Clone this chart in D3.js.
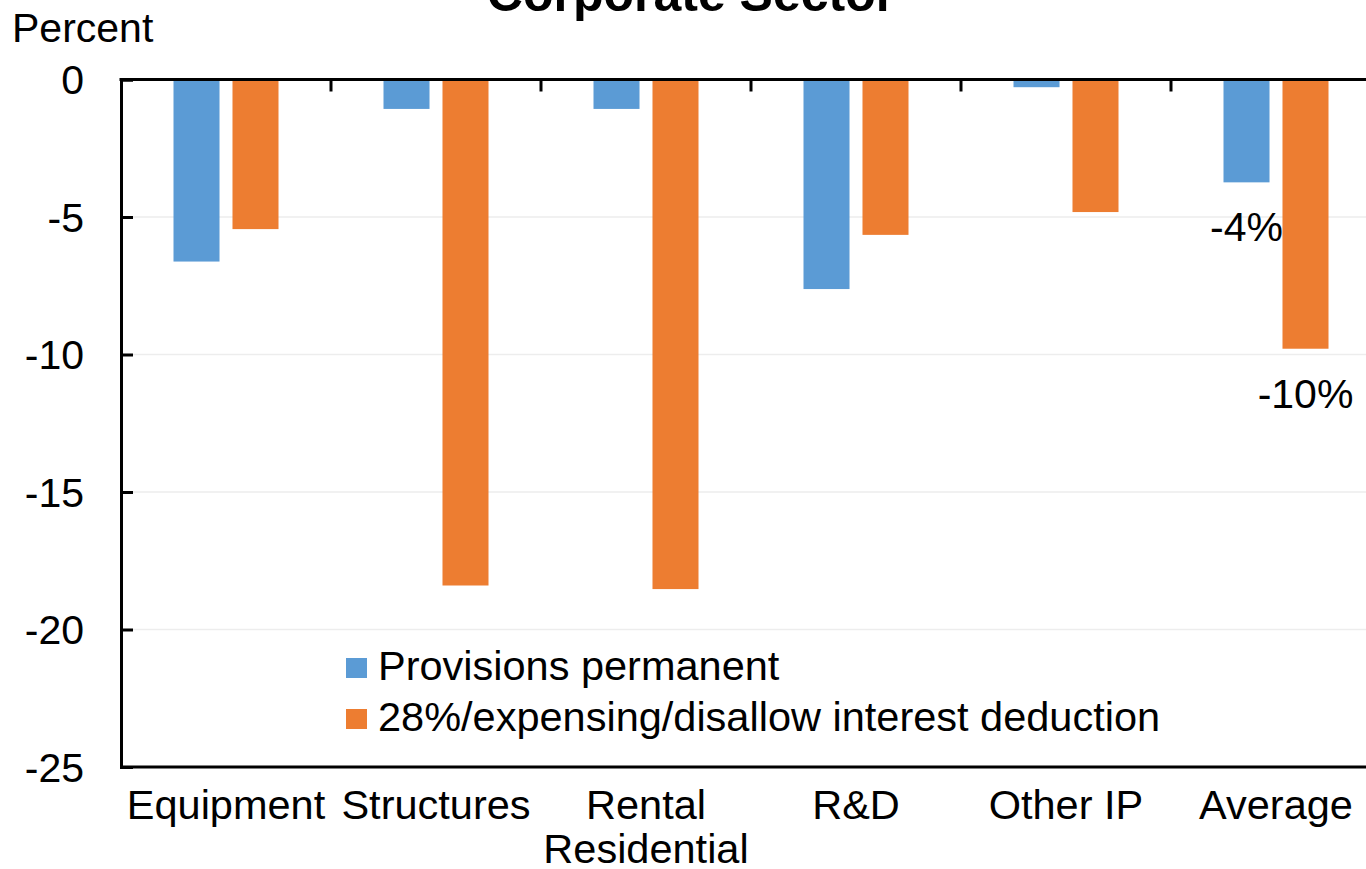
<!DOCTYPE html>
<html>
<head>
<meta charset="utf-8">
<script src="https://cdn.jsdelivr.net/npm/d3@7"></script>
<style>
  body { margin: 0; background: #fff; }
  svg { display: block; font-family: "Liberation Sans", Arial, sans-serif; }
</style>
</head>
<body>
<svg id="chart" width="1366" height="869"></svg>
<script>
const categories = [["Equipment"], ["Structures"], ["Rental", "Residential"], ["R&D"], ["Other IP"], ["Average"]];
const seriesNames = ["Provisions permanent", "28%/expensing/disallow interest deduction"];
const provisionsPermanent = [-6.62, -1.07, -1.07, -7.62, -0.28, -3.74];
const expensingDisallow = [-5.44, -18.4, -18.53, -5.65, -4.82, -9.79];
const yTicks = [0, -5, -10, -15, -20, -25];
const averageLabels = ["-4%", "-10%"];
const colors = ["#5B9BD5", "#ED7D31"];

const svg = d3.select("#chart");
const plotLeft = 121, plotRight = 1381, plotTop = 79.5, plotBottom = 767;

const catKeys = categories.map((c, i) => i);
const x0 = d3.scaleBand().domain(catKeys).range([plotLeft, plotRight]).paddingInner(0.5).paddingOuter(0.25);
const x1 = d3.scaleBand().domain([0, 1]).range([0, x0.bandwidth()]).paddingInner(0.22).paddingOuter(0);
const y = d3.scaleLinear().domain([-25, 0]).range([plotBottom, plotTop]);
const step = x0.step();

// gridlines
svg.append("g").selectAll("line").data(yTicks.filter(t => t !== 0 && t !== -25)).join("line")
  .attr("x1", plotLeft).attr("x2", 1366)
  .attr("y1", d => y(d)).attr("y2", d => y(d))
  .attr("stroke", "#ededed").attr("stroke-width", 1.5);

// bars
const series = [provisionsPermanent, expensingDisallow];
series.forEach((vals, si) => {
  svg.append("g").selectAll("rect").data(vals).join("rect")
    .attr("x", (d, i) => x0(i) + x1(si))
    .attr("width", x1.bandwidth())
    .attr("y", y(0))
    .attr("height", d => y(d) - y(0))
    .attr("fill", colors[si]);
});

// bottom line
svg.append("line").attr("x1", plotLeft).attr("x2", 1366).attr("y1", y(-25)).attr("y2", y(-25))
  .attr("stroke", "#000").attr("stroke-width", 3);

// left axis
const yAxis = d3.axisLeft(y).tickValues(yTicks).tickSize(-12).tickPadding(0).tickFormat(d => String(d));
const gy = svg.append("g").attr("transform", `translate(${plotLeft},0)`).call(yAxis);
gy.select(".domain").attr("stroke", "#000").attr("stroke-width", 3);
gy.selectAll(".tick line").attr("stroke", "#000").attr("stroke-width", 3);
gy.selectAll(".tick text").attr("x", -37).attr("dy", "0.35em")
  .style("font-size", "41px").style("font-family", "Liberation Sans, Arial, sans-serif").attr("fill", "#000");

// top axis line with boundary ticks
svg.append("line").attr("x1", plotLeft - 1.5).attr("x2", 1366).attr("y1", y(0)).attr("y2", y(0))
  .attr("stroke", "#000").attr("stroke-width", 3);
const boundaries = catKeys.slice(1).map(i => x0(i) - x0.paddingInner() * step / 2);
svg.append("g").selectAll("line").data(boundaries).join("line")
  .attr("x1", d => d).attr("x2", d => d)
  .attr("y1", y(0)).attr("y2", y(0) + 12)
  .attr("stroke", "#000").attr("stroke-width", 3);

// category labels
const lab = svg.append("g").selectAll("text").data(categories).join("text")
  .attr("x", (d, i) => x0(i) + x0.bandwidth() / 2)
  .attr("y", 819)
  .attr("text-anchor", "middle")
  .style("font-size", "41.5px").attr("fill", "#000");
lab.selectAll("tspan").data(d => d).join("tspan")
  .attr("x", function() { return d3.select(this.parentNode).attr("x"); })
  .attr("dy", (d, i) => i === 0 ? 0 : 44)
  .text(d => d);

// data labels for Average
const avgIdx = categories.length - 1;
svg.append("g").selectAll("text").data([provisionsPermanent[avgIdx], expensingDisallow[avgIdx]]).join("text")
  .attr("x", (d, i) => x0(avgIdx) + x1(i) + x1.bandwidth() / 2)
  .attr("y", d => y(d) + 59)
  .attr("text-anchor", "middle")
  .style("font-size", "41px").attr("fill", "#000")
  .text((d, i) => averageLabels[i]);

// y title
svg.append("text").attr("x", 12).attr("y", 42).style("font-size", "41px").attr("fill", "#000").text("Percent");

// chart title
svg.append("text").attr("x", 691).attr("y", 11).attr("text-anchor", "middle")
  .style("font-size", "50px").style("font-weight", "bold").attr("fill", "#000").text("Corporate Sector");

// legend
const lg = svg.append("g");
seriesNames.forEach((name, i) => {
  const yy = 658 + i * 51;
  lg.append("rect").attr("x", 346).attr("y", yy).attr("width", 21).attr("height", 20).attr("fill", colors[i]);
  lg.append("text").attr("x", 378).attr("y", yy + 22).style("font-size", "41.5px").attr("fill", "#000").text(name);
});
</script>
</body>
</html>
